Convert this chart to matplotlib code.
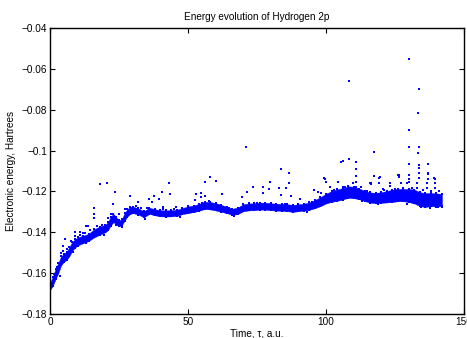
import numpy as np
import matplotlib.pyplot as plt

plt.rcParams['font.family'] = ['Liberation Sans', 'DejaVu Sans']

# dense band of the energy trace: time nodes, band centre and half width (Hartrees)
band_t = [0, 1, 2, 3, 4, 5, 6, 7, 8, 9, 10, 12, 14, 16, 18, 20, 21, 22, 23, 24, 25, 26, 27, 28,
          29, 30, 32, 34, 36, 38, 40, 42, 44, 46, 48, 50, 52, 54, 56, 58, 60, 62, 64, 66, 68, 70,
          72, 74, 76, 78, 80, 82, 84, 86, 88, 90, 92, 94, 96, 98, 100, 102, 104, 106, 108, 110,
          112, 114, 116, 118, 120, 122, 124, 126, 128, 130, 132, 134, 136, 138, 140, 142]
band_mid = [-0.1665, -0.1640, -0.1605, -0.1575, -0.1540, -0.1525, -0.1515, -0.1495, -0.1470,
            -0.1455, -0.1445, -0.1435, -0.1425, -0.1405, -0.1392, -0.1382, -0.1370, -0.1345,
            -0.1330, -0.1345, -0.1356, -0.1352, -0.1325, -0.1305, -0.1293, -0.1290, -0.1298,
            -0.1312, -0.1295, -0.1302, -0.1307, -0.1308, -0.1307, -0.1305, -0.1296, -0.1290,
            -0.1285, -0.1278, -0.1268, -0.1270, -0.1275, -0.1283, -0.1290, -0.1300, -0.1295,
            -0.1280, -0.1276, -0.1275, -0.1272, -0.1272, -0.1275, -0.1277, -0.1278, -0.1280,
            -0.1283, -0.1280, -0.1277, -0.1272, -0.1262, -0.1250, -0.1235, -0.1225, -0.1218,
            -0.1212, -0.1203, -0.1205, -0.1212, -0.1222, -0.1230, -0.1232, -0.1230, -0.1226,
            -0.1222, -0.1218, -0.1218, -0.1220, -0.1225, -0.1238, -0.1242, -0.1240, -0.1242,
            -0.1242]
band_hw = [0.0018, 0.0022, 0.0025, 0.0025, 0.0022, 0.0020, 0.0020, 0.0022, 0.0022, 0.0020,
           0.0020, 0.0018, 0.0018, 0.0020, 0.0020, 0.0018, 0.0020, 0.0022, 0.0020, 0.0018,
           0.0015, 0.0015, 0.0018, 0.0018, 0.0018, 0.0016, 0.0015, 0.0015, 0.0015, 0.0015,
           0.0015, 0.0015, 0.0015, 0.0015, 0.0015, 0.0016, 0.0016, 0.0017, 0.0018, 0.0018,
           0.0018, 0.0017, 0.0016, 0.0015, 0.0016, 0.0017, 0.0017, 0.0017, 0.0017, 0.0017,
           0.0017, 0.0017, 0.0017, 0.0017, 0.0017, 0.0017, 0.0017, 0.0018, 0.0020, 0.0022,
           0.0024, 0.0026, 0.0028, 0.0028, 0.0028, 0.0028, 0.0026, 0.0025, 0.0025, 0.0025,
           0.0026, 0.0028, 0.0030, 0.0030, 0.0030, 0.0032, 0.0034, 0.0034, 0.0034, 0.0032,
           0.0032, 0.0030]

# points just above / below the band that make its ragged edge
fringe_t = [1.5, 2.5, 4.1, 6.0, 7.5, 9.0, 11.0, 12.5, 14.5, 17.0, 19.0, 21.0, 22.0, 27.0,
            30.0, 33.0, 35.0, 41.0, 45.0, 50.0, 55.0, 57.5, 60.0, 65.0, 70.0, 75.0, 80.0,
            85.0, 90.0, 95.0, 98.0, 103.0, 107.0, 111.0, 115.0, 121.0, 125.0, 128.0, 131.0,
            135.0, 138.0, 141.0, 3.5, 8.5, 13.0, 19.5, 26.0, 34.5, 47.0, 66.5, 93.0, 113.0,
            119.0, 129.5, 134.5, 137.5, 140.5, 142.0]
fringe_e = [-0.1605, -0.1570, -0.1500, -0.1480, -0.1445, -0.1420, -0.1415, -0.1405, -0.1390,
            -0.1370, -0.1365, -0.1330, -0.1310, -0.1285, -0.1275, -0.1280, -0.1280, -0.1285,
            -0.1285, -0.1272, -0.1255, -0.1245, -0.1258, -0.1282, -0.1262, -0.1258, -0.1257,
            -0.1262, -0.1262, -0.1252, -0.1228, -0.1195, -0.1180, -0.1178, -0.1198, -0.1195,
            -0.1188, -0.1185, -0.1183, -0.1195, -0.1198, -0.1200, -0.1615, -0.1495, -0.1450,
            -0.1415, -0.1375, -0.1335, -0.1325, -0.1320, -0.1302, -0.1245, -0.1262, -0.1260,
            -0.1278, -0.1280, -0.1278, -0.1275]

# scattered points that stand out of the band
out_t = [130.2, 108.2, 133.7, 133.4, 130.1, 70.9, 117.4, 130.1, 133.7, 133.4, 108.3, 105.3,
         106.3, 110.7, 130.1, 133.7, 137.0, 110.9, 83.6, 110.9, 110.9, 130.1, 130.1, 133.7,
         133.7, 136.8, 136.8, 117.4, 126.2, 119.4, 116.2, 139.2, 104.2, 18.0, 20.8, 23.4, 25.0,
         22.8, 29.1, 15.9, 15.9, 15.9, 5.3, 4.7, 4.7, 8.9, 10.7, 12.0, 13.2, 13.8, 31.9, 31.0,
         35.9, 37.7, 37.0, 39.4, 40.6, 43.0, 43.4, 41.0, 45.8, 58.0, 56.2, 60.1, 52.9, 54.7,
         54.7, 56.2, 62.2, 52.5, 69.4, 71.5, 73.7, 77.1, 79.7, 79.5, 77.3, 86.6, 86.6, 83.0,
         85.4, 83.7, 87.3, 90.6, 95.8, 97.2, 98.2, 99.4, 119.3, 119.3, 115.9, 126.4, 126.4,
         130.1, 130.1, 133.7, 136.8, 139.5, 139.5, 99.6, 100.0, 101.4, 104.2, 106.0, 109.9,
         112.7, 116.3, 120.8, 123.2, 123.2, 127.0, 129.2, 132.8, 132.8, 136.7, 136.7, 139.5]
out_e = [-0.0553, -0.0661, -0.0700, -0.0815, -0.0898, -0.0982, -0.1005, -0.0984, -0.0981,
         -0.1010, -0.1041, -0.1054, -0.1051, -0.1056, -0.1067, -0.1071, -0.1067, -0.1090,
         -0.1092, -0.1123, -0.1152, -0.1120, -0.1141, -0.1111, -0.1134, -0.1111, -0.1139,
         -0.1123, -0.1120, -0.1131, -0.1157, -0.1136, -0.1152, -0.1164, -0.1157, -0.1201,
         -0.1310, -0.1263, -0.1221, -0.1283, -0.1310, -0.1332, -0.1434, -0.1465, -0.1492,
         -0.1397, -0.1397, -0.1402, -0.1369, -0.1369, -0.1250, -0.1271, -0.1237, -0.1221,
         -0.1250, -0.1237, -0.1204, -0.1157, -0.1213, -0.1275, -0.1275, -0.1128, -0.1155,
         -0.1149, -0.1213, -0.1210, -0.1226, -0.1222, -0.1213, -0.1242, -0.1226, -0.1204,
         -0.1177, -0.1177, -0.1152, -0.1190, -0.1206, -0.1108, -0.1157, -0.1185, -0.1185,
         -0.1217, -0.1222, -0.1239, -0.1193, -0.1204, -0.1209, -0.1136, -0.1133, -0.1157,
         -0.1157, -0.1120, -0.1131, -0.1067, -0.1152, -0.1087, -0.1115, -0.1139, -0.1160,
         -0.1139, -0.1152, -0.1177, -0.1155, -0.1177, -0.1160, -0.1180, -0.1165, -0.1188,
         -0.1160, -0.1173, -0.1160, -0.1157, -0.1160, -0.1185, -0.1160, -0.1185, -0.1185]

yticks = [-0.18, -0.16, -0.14, -0.12, -0.1, -0.08, -0.06, -0.04]
ytick_labels = ['\u22120.18', '\u22120.16', '\u22120.14', '\u22120.12', '\u22120.1',
                '\u22120.08', '\u22120.06', '\u22120.04']
xticks = [0, 50, 100, 150]

fig = plt.figure(figsize=(4.67, 3.38), dpi=100)
ax = fig.add_axes([50 / 467, 24 / 338, 414 / 467, 286 / 338])

t = np.array(band_t)
mid = np.array(band_mid)
hw = np.array(band_hw)
blue = '#0000ff'
ax.fill_between(t, mid - hw, mid + hw, color=blue, linewidth=0.3, edgecolor=blue)
ax.plot(t, mid + hw, 's', color=blue, markersize=1.8, markeredgewidth=0)
ax.plot(t, mid - hw, 's', color=blue, markersize=1.8, markeredgewidth=0)
ax.plot(fringe_t, fringe_e, 's', color=blue, markersize=1.6, markeredgewidth=0)
ax.plot(out_t, out_e, 's', color=blue, markersize=1.6, markeredgewidth=0)

ax.set_xlim(0, 150)
ax.set_ylim(-0.18, -0.04)
ax.set_xticks(xticks)
ax.set_yticks(yticks)
ax.set_yticklabels(ytick_labels)
ax.tick_params(direction='in', top=True, right=True, length=3.5, width=0.8,
               labelsize=7.2, pad=2)
for s in ax.spines.values():
    s.set_linewidth(1.0)

ax.set_title('Energy evolution of Hydrogen 2p', fontsize=7.2, pad=6)
ax.set_xlabel('Time, \u03c4, a.u.', fontsize=7.2, labelpad=1)
ax.set_ylabel('Electronic energy, Hartrees', fontsize=7.2, labelpad=4)

fig.savefig('out.png', dpi=100)
